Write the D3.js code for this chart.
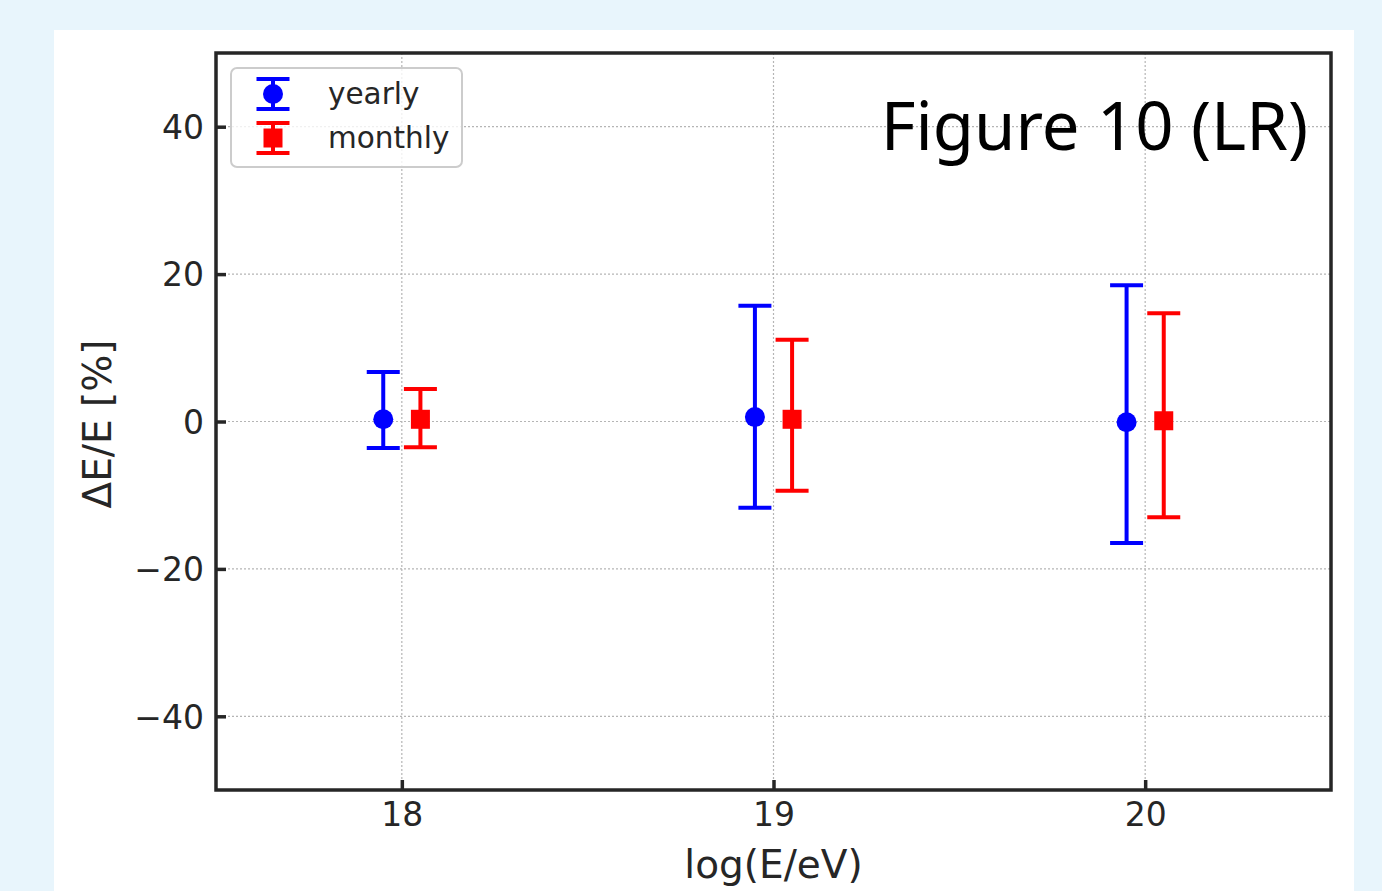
<!DOCTYPE html>
<html>
<head>
<meta charset="utf-8">
<script src="https://cdn.jsdelivr.net/npm/d3@7"></script>
<style>
  body { margin: 0; background: #e8f5fc; }
  svg { display: block; }
</style>
</head>
<body>
<svg id="chart" width="1382" height="891"></svg>
<script>
// -------- data --------
const energies = [18, 19, 20];
const shift = 0.05; // horizontal offset of each series from the energy bin
const yearlyMean = [0.3, 0.6, -0.1];
const yearlyLo = [-3.6, -11.7, -16.5];
const yearlyHi = [6.7, 15.7, 18.5];
const monthlyMean = [0.3, 0.3, 0.1];
const monthlyLo = [-3.5, -9.4, -13.0];
const monthlyHi = [4.4, 11.1, 14.7];
const xTicks = [18, 19, 20];
const yTicks = [-40, -20, 0, 20, 40];

// -------- setup --------
const svg = d3.select("#chart");
const font = "'DejaVu Sans', sans-serif";
const ink = "#262626";

// white panel over the light blue page
svg.append("rect")
  .attr("x", 54).attr("y", 30)
  .attr("width", 1300).attr("height", 861)
  .attr("fill", "#ffffff");

const x = d3.scaleLinear().domain([17.5, 20.5]).range([216, 1331]);
const y = d3.scaleLinear().domain([-50, 50]).range([790, 53]);

// grid (dotted)
const grid = svg.append("g").attr("stroke", "#b5b5b5")
  .attr("stroke-width", 1.2).attr("stroke-dasharray", "2,2");
grid.selectAll("line.gx").data(xTicks).enter().append("line")
  .attr("x1", d => x(d)).attr("x2", d => x(d))
  .attr("y1", y.range()[1]).attr("y2", y.range()[0]);
grid.selectAll("line.gy").data(yTicks).enter().append("line")
  .attr("y1", d => y(d)).attr("y2", d => y(d))
  .attr("x1", x.range()[0]).attr("x2", x.range()[1]);

// axes with inward ticks
const yAxis = svg.append("g")
  .attr("transform", `translate(${x.range()[0]},0)`)
  .call(d3.axisLeft(y).tickValues(yTicks).tickSize(-10).tickPadding(12)
    .tickFormat(d => d < 0 ? "\u2212" + Math.abs(d) : d));
const xAxis = svg.append("g")
  .attr("transform", `translate(0,${y.range()[0]})`)
  .call(d3.axisBottom(x).tickValues(xTicks).tickSize(-10).tickPadding(13)
    .tickFormat(d3.format("d")));

[xAxis, yAxis].forEach(a => {
  a.select(".domain").remove();
  a.selectAll(".tick line").attr("stroke", ink).attr("stroke-width", 3.5);
  a.selectAll(".tick text").attr("fill", ink)
    .style("font-family", font).style("font-size", "33px");
});
yAxis.selectAll(".tick text").attr("dy", "0.36em");
xAxis.selectAll(".tick text").attr("dy", "0.71em");

// frame
svg.append("rect")
  .attr("x", x.range()[0]).attr("y", y.range()[1])
  .attr("width", x.range()[1] - x.range()[0])
  .attr("height", y.range()[0] - y.range()[1])
  .attr("fill", "none").attr("stroke", ink).attr("stroke-width", 3.5);

// axis labels
svg.append("text")
  .attr("x", (x.range()[0] + x.range()[1]) / 2).attr("y", 878)
  .attr("text-anchor", "middle").attr("fill", ink)
  .style("font-family", font).style("font-size", "39px")
  .text("log(E/eV)");
svg.append("text")
  .attr("transform", "translate(111,424) rotate(-90)")
  .attr("text-anchor", "middle").attr("fill", ink)
  .style("font-family", font).style("font-size", "39px")
  .text("ΔE/E [%]");

// -------- error bars --------
const capHalf = 16.5;
function errorSeries(mean, lo, hi, dx, colour, marker) {
  const rows = energies.map((e, i) => ({ e: e + dx, m: mean[i], lo: lo[i], hi: hi[i] }));
  const g = svg.append("g").attr("stroke", colour).attr("fill", colour);
  g.selectAll("line.bar").data(rows).enter().append("line")
    .attr("x1", d => x(d.e)).attr("x2", d => x(d.e))
    .attr("y1", d => y(d.lo)).attr("y2", d => y(d.hi))
    .attr("stroke-width", 4);
  ["lo", "hi"].forEach(k => {
    g.selectAll("line.cap" + k).data(rows).enter().append("line")
      .attr("x1", d => x(d.e) - capHalf).attr("x2", d => x(d.e) + capHalf)
      .attr("y1", d => y(d[k])).attr("y2", d => y(d[k]))
      .attr("stroke-width", 4);
  });
  if (marker === "circle") {
    g.selectAll("circle").data(rows).enter().append("circle")
      .attr("cx", d => x(d.e)).attr("cy", d => y(d.m)).attr("r", 10)
      .attr("stroke", "none");
  } else {
    g.selectAll("rect").data(rows).enter().append("rect")
      .attr("x", d => x(d.e) - 9.5).attr("y", d => y(d.m) - 9.5)
      .attr("width", 19).attr("height", 19).attr("stroke", "none");
  }
}
errorSeries(yearlyMean, yearlyLo, yearlyHi, -shift, "#0000ff", "circle");
errorSeries(monthlyMean, monthlyLo, monthlyHi, shift, "#ff0000", "square");

// -------- legend --------
const legend = svg.append("g");
legend.append("rect")
  .attr("x", 231).attr("y", 68).attr("width", 231).attr("height", 99)
  .attr("rx", 6).attr("fill", "#ffffff").attr("fill-opacity", 0.8)
  .attr("stroke", "#cccccc").attr("stroke-width", 2);
const legendItems = [
  { label: "yearly", colour: "#0000ff", marker: "circle", cy: 94 },
  { label: "monthly", colour: "#ff0000", marker: "square", cy: 138 }
];
legendItems.forEach(it => {
  const g = legend.append("g").attr("stroke", it.colour).attr("fill", it.colour);
  const cx = 273;
  g.append("line").attr("x1", cx).attr("x2", cx)
    .attr("y1", it.cy - 15).attr("y2", it.cy + 15).attr("stroke-width", 4);
  [-15, 15].forEach(o => g.append("line")
    .attr("x1", cx - capHalf).attr("x2", cx + capHalf)
    .attr("y1", it.cy + o).attr("y2", it.cy + o).attr("stroke-width", 4));
  if (it.marker === "circle") {
    g.append("circle").attr("cx", cx).attr("cy", it.cy).attr("r", 10).attr("stroke", "none");
  } else {
    g.append("rect").attr("x", cx - 9.5).attr("y", it.cy - 9.5)
      .attr("width", 19).attr("height", 19).attr("stroke", "none");
  }
  legend.append("text")
    .attr("x", 328).attr("y", it.cy + 10).attr("fill", ink)
    .style("font-family", font).style("font-size", "29.5px")
    .text(it.label);
});

// figure tag
svg.append("text")
  .attr("x", 1308).attr("y", 150).attr("text-anchor", "end")
  .attr("fill", "#000000")
  .style("font-family", "'Noto Sans', sans-serif").style("font-size", "67px")
  .text("Figure 10 (LR)");
</script>
</body>
</html>
